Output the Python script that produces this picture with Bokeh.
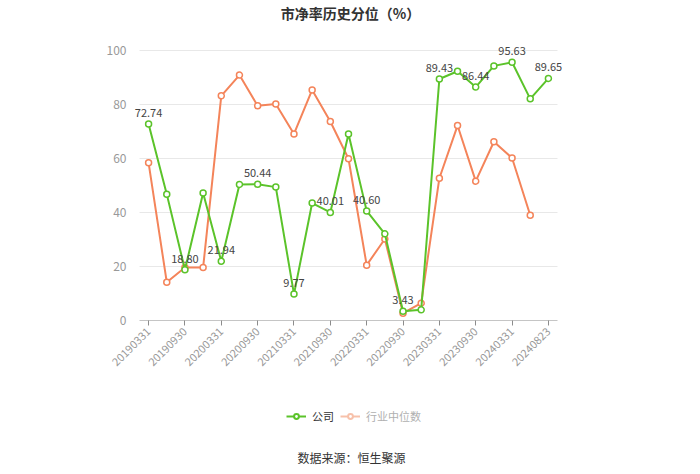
from bokeh.plotting import figure
from bokeh.layouts import column
from bokeh.models import (Range1d, FixedTicker, Legend, LegendItem, LabelSet, Label,
                          ColumnDataSource)
from bokeh.core.properties import value
from bokeh.embed import file_html
from bokeh.resources import INLINE
import math

dates = ["20190331", "20190630", "20190930", "20191231", "20200331", "20200630",
         "20200930", "20201231", "20210331", "20210630", "20210930", "20211231",
         "20220331", "20220630", "20220930", "20221231", "20230331", "20230630",
         "20230930", "20231231", "20240331", "20240630", "20240823"]
company = [72.74, 46.8, 18.80, 47.2, 21.94, 50.4, 50.44, 49.4, 9.77, 43.5, 40.01, 69.1,
           40.60, 32.1, 3.43, 3.95, 89.43, 92.3, 86.44, 94.3, 95.63, 82.1, 89.65]
industry = [58.4, 14.2, 19.6, 19.6, 83.2, 90.9, 79.5, 80.2, 69.1, 85.4, 73.7, 59.9,
            20.5, 30.2, 2.7, 6.4, 52.7, 72.2, 51.6, 66.2, 60.2, 39.0]
yticks = [0, 20, 40, 60, 80, 100]

GREEN = "#5bc32a"
ORANGE = "#f4845a"
FADED = "#f7c1aa"
FONT = "Noto Sans CJK SC"

n = len(dates)
u = 418.0 / n          # pixels per category
pad_l, pad_r = 5, 5    # frame slightly wider than plotting band so labels fit
x0 = -0.5 - pad_l / u
x1 = n - 0.5 + pad_r / u
y1 = 100 + 8 / 2.7
FL = 139 - pad_l       # frame left edge on the page

H0, H2 = 30, 94
H1 = 474 - H0 - H2


def blank(h):
    b = figure(width=700, height=h, output_backend="svg", toolbar_location=None,
               x_range=Range1d(0, 700), y_range=Range1d(0, h),
               x_axis_type=None, y_axis_type=None, outline_line_color=None,
               min_border_left=FL, min_border_right=143 - pad_r,
               min_border_top=0, min_border_bottom=0)
    b.grid.grid_line_color = None
    return b


# ---- header: title ----
hdr = blank(H0)
hdr.add_layout(Label(x=350 - FL, y=H0 - 12, x_units="screen", y_units="screen",
                     text="市净率历史分位（%）", text_align="center", text_baseline="middle",
                     text_font=FONT, text_font_size="14px", text_font_style="bold",
                     text_color="#333333"))

# ---- main chart ----
p = figure(width=700, height=H1, output_backend="svg", toolbar_location=None,
           x_range=Range1d(x0, x1), y_range=Range1d(0, y1),
           min_border_left=FL, min_border_right=143 - pad_r,
           min_border_top=42 - H0, min_border_bottom=60, outline_line_color=None)

p.xaxis.ticker = FixedTicker(ticks=list(range(0, n, 2)))
p.xaxis.major_label_overrides = {i: d for i, d in enumerate(dates)}
p.xaxis.major_label_orientation = math.pi / 4
p.xaxis.minor_tick_line_color = None
p.xaxis.axis_line_color = None
p.xaxis.major_tick_line_color = "#8c8c8c"
p.xaxis.major_tick_out = 5
p.xaxis.major_tick_in = 0
p.xaxis.major_label_text_color = "#999999"
p.xaxis.major_label_text_font = FONT
p.xaxis.major_label_text_font_size = "11px"
p.xaxis.major_label_standoff = 4

p.yaxis.ticker = FixedTicker(ticks=yticks)
p.yaxis.axis_line_color = None
p.yaxis.major_tick_line_color = None
p.yaxis.minor_tick_line_color = None
p.yaxis.major_label_text_color = "#999999"
p.yaxis.major_label_text_font = FONT
p.yaxis.major_label_text_font_size = "12px"
p.yaxis.major_label_standoff = 2

p.xgrid.grid_line_color = None
p.ygrid.grid_line_color = None

# grid lines and axis line across the category band only
gy = [t for t in yticks if t > 0]
p.segment(x0=[-0.5] * len(gy), x1=[n - 0.5] * len(gy), y0=gy, y1=gy,
          line_color="#e8e8e8", line_width=1)
p.segment(x0=[-0.5], x1=[n - 0.5], y0=[0], y1=[0], line_color="#8c8c8c", line_width=1)

xi = list(range(n))
xo = list(range(len(industry)))

p.line(xo, industry, line_color=ORANGE, line_width=2)
p.scatter(xo, industry, marker="circle", size=6, fill_color="white",
          line_color=ORANGE, line_width=1.5)
p.line(xi, company, line_color=GREEN, line_width=2)
p.scatter(xi, company, marker="circle", size=6, fill_color="white",
          line_color=GREEN, line_width=1.5)

lab_idx = list(range(0, n, 2))
src = ColumnDataSource(dict(x=[xi[i] for i in lab_idx],
                            y=[company[i] for i in lab_idx],
                            t=["%.2f" % company[i] for i in lab_idx]))
labels = LabelSet(x="x", y="y", text="t", source=src, text_align="center",
                  text_baseline="bottom", y_offset=7, text_font=value(FONT),
                  text_font_size=value("11px"), text_color=value("#444444"))
p.add_layout(labels)

# ---- footer: legend + source ----
f = blank(H2)
g1l = f.line([-50, -49], [-50, -50], line_color=GREEN, line_width=2)
g1c = f.scatter([-50], [-50], marker="circle", size=8, fill_color="white",
                line_color=GREEN, line_width=2)
g2l = f.line([-50, -49], [-50, -50], line_color=FADED, line_width=2)
g2c = f.scatter([-50], [-50], marker="circle", size=8, fill_color="white",
                line_color=FADED, line_width=2)

common = dict(orientation="horizontal", background_fill_alpha=0, border_line_color=None,
              label_text_font=FONT, label_text_font_size="11px",
              glyph_width=20, glyph_height=12, label_standoff=6, padding=0, margin=0,
              label_height=12)
leg1 = Legend(items=[LegendItem(label="公司", renderers=[g1l, g1c])],
              location=(286 - FL, 50), label_text_color="#333333", **common)
leg2 = Legend(items=[LegendItem(label="行业中位数", renderers=[g2l, g2c])],
              location=(340 - FL, 50), label_text_color="#b0b0b0", **common)
f.add_layout(leg1)
f.add_layout(leg2)

f.add_layout(Label(x=351 - FL, y=H2 - 77, x_units="screen", y_units="screen",
                   text="数据来源：恒生聚源", text_align="center", text_baseline="middle",
                   text_font=FONT, text_font_size="12px", text_color="#333333"))

open("out.html", "w").write(file_html(column(hdr, p, f, spacing=0), INLINE))
